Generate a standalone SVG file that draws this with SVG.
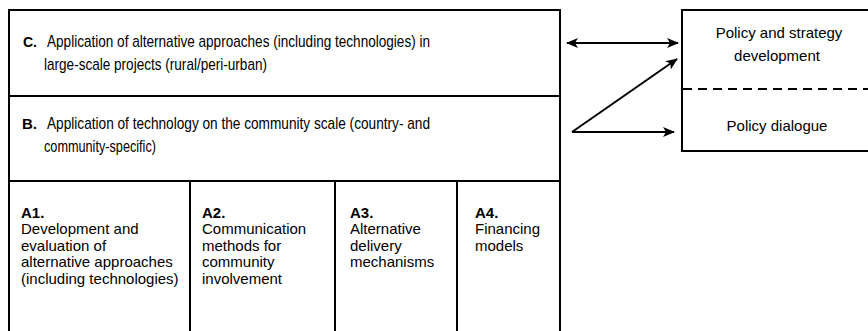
<svg xmlns="http://www.w3.org/2000/svg" width="868" height="331" viewBox="0 0 868 331">
  <style>
    .box { fill: #ffffff; stroke: #000000; stroke-width: 2; }
    .dash { stroke: #000000; stroke-width: 2; stroke-dasharray: 9 6; fill: none; }
    .txt { font-family: "Liberation Sans", Arial, sans-serif; font-size: 15px; fill: #000000; }
    .big { font-size: 17px; }
    .lbl { font-family: "Liberation Sans", Arial, sans-serif; font-size: 15px; font-weight: bold; fill: #000000; }
    .mid { text-anchor: middle; }
    .conn { stroke: #000000; stroke-width: 2; fill: none; }
  </style>
  <defs>
    <marker id="head" viewBox="0 0 12 10" refX="11" refY="5" markerWidth="12" markerHeight="10" markerUnits="userSpaceOnUse" orient="auto-start-reverse">
      <path d="M0,0 L12,5 L0,10 L3,5 Z" fill="#000000"/>
    </marker>
  </defs>

  <rect width="868" height="331" fill="#ffffff"/>

  <!-- Level C: large-scale projects -->
  <g id="node-c">
    <rect class="box" x="9" y="10" width="551" height="86"/>
    <text class="lbl big" x="23" y="47" textLength="14" lengthAdjust="spacingAndGlyphs">C.</text>
    <text class="txt big" x="47" y="47" textLength="383" lengthAdjust="spacingAndGlyphs">Application of alternative approaches (including technologies) in</text>
    <text class="txt big" x="44" y="70" textLength="223" lengthAdjust="spacingAndGlyphs">large-scale projects (rural/peri-urban)</text>
  </g>

  <!-- Level B: community scale -->
  <g id="node-b">
    <rect class="box" x="9" y="96" width="551" height="85"/>
    <text class="lbl big" x="22" y="129" textLength="15" lengthAdjust="spacingAndGlyphs">B.</text>
    <text class="txt big" x="47" y="129" textLength="383" lengthAdjust="spacingAndGlyphs">Application of technology on the community scale (country- and</text>
    <text class="txt big" x="44" y="152" textLength="112" lengthAdjust="spacingAndGlyphs">community-specific)</text>
  </g>

  <!-- Level A: four research areas -->
  <g id="node-a1">
    <rect class="box" x="9" y="181" width="181" height="152"/>
    <text class="lbl" x="21" y="218">A1.</text>
    <text class="txt" x="21" y="234">Development and</text>
    <text class="txt" x="21" y="251">evaluation of</text>
    <text class="txt" x="21" y="267">alternative approaches</text>
    <text class="txt" x="21" y="284">(including technologies)</text>
  </g>
  <g id="node-a2">
    <rect class="box" x="190" y="181" width="145" height="152"/>
    <text class="lbl" x="202" y="218">A2.</text>
    <text class="txt" x="202" y="234">Communication</text>
    <text class="txt" x="202" y="251">methods for</text>
    <text class="txt" x="202" y="267">community</text>
    <text class="txt" x="202" y="284">involvement</text>
  </g>
  <g id="node-a3">
    <rect class="box" x="335" y="181" width="122" height="152"/>
    <text class="lbl" x="350" y="218">A3.</text>
    <text class="txt" x="350" y="234">Alternative</text>
    <text class="txt" x="350" y="251">delivery</text>
    <text class="txt" x="350" y="267">mechanisms</text>
  </g>
  <g id="node-a4">
    <rect class="box" x="457" y="181" width="103" height="152"/>
    <text class="lbl" x="475" y="218">A4.</text>
    <text class="txt" x="475" y="234">Financing</text>
    <text class="txt" x="475" y="251">models</text>
  </g>

  <!-- Policy box, open past the right edge -->
  <g id="node-policy">
    <rect class="box" x="682" y="10" width="192" height="141"/>
    <line class="dash" x1="683" y1="89" x2="868" y2="89"/>
    <text class="txt mid" x="779" y="38">Policy and strategy</text>
    <text class="txt mid" x="777" y="61">development</text>
    <text class="txt mid" x="777" y="131">Policy dialogue</text>
  </g>

  <!-- Connectors -->
  <g id="connectors">
    <line class="conn" x1="567" y1="43" x2="678" y2="43" marker-start="url(#head)" marker-end="url(#head)"/>
    <line class="conn" x1="572" y1="132" x2="677" y2="59" marker-end="url(#head)"/>
    <line class="conn" x1="572" y1="132" x2="674" y2="132" marker-end="url(#head)"/>
  </g>
</svg>
